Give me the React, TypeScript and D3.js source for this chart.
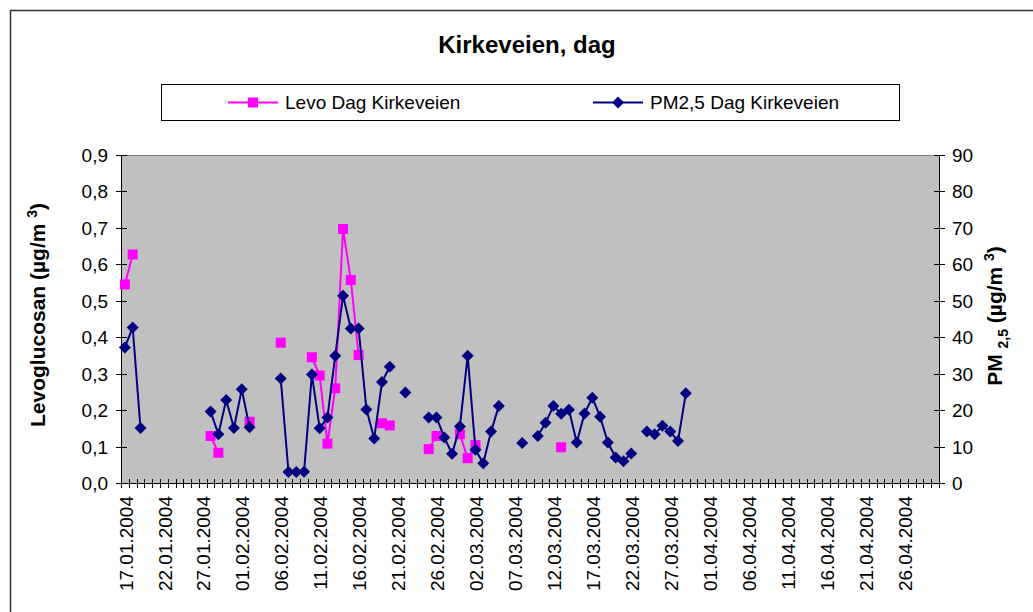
import React, { useEffect, useRef } from "react";
import * as d3 from "d3";

// Levoglucosan, Kirkeveien (µg/m3)
const levoDates = [
  "17.01.2004", "18.01.2004", "28.01.2004", "29.01.2004", "02.02.2004", "06.02.2004",
  "10.02.2004", "11.02.2004", "12.02.2004", "13.02.2004", "14.02.2004", "15.02.2004",
  "16.02.2004", "19.02.2004", "20.02.2004", "25.02.2004", "26.02.2004", "29.02.2004",
  "01.03.2004", "02.03.2004", "13.03.2004",
];
const levoValues = [
  0.545, 0.627, 0.129, 0.083, 0.168, 0.385,
  0.345, 0.295, 0.108, 0.26, 0.697, 0.557,
  0.351, 0.164, 0.158, 0.093, 0.129, 0.134,
  0.068, 0.104, 0.098,
];

// PM2,5, Kirkeveien (µg/m3)
const pmDates = [
  "17.01.2004", "18.01.2004", "19.01.2004", "28.01.2004", "29.01.2004", "30.01.2004",
  "31.01.2004", "01.02.2004", "02.02.2004", "06.02.2004", "07.02.2004", "08.02.2004",
  "09.02.2004", "10.02.2004", "11.02.2004", "12.02.2004", "13.02.2004", "14.02.2004",
  "15.02.2004", "16.02.2004", "17.02.2004", "18.02.2004", "19.02.2004", "20.02.2004",
  "22.02.2004", "25.02.2004", "26.02.2004", "27.02.2004", "28.02.2004", "29.02.2004",
  "01.03.2004", "02.03.2004", "03.03.2004", "04.03.2004", "05.03.2004", "08.03.2004",
  "10.03.2004", "11.03.2004", "12.03.2004", "13.03.2004", "14.03.2004", "15.03.2004",
  "16.03.2004", "17.03.2004", "18.03.2004", "19.03.2004", "20.03.2004", "21.03.2004",
  "22.03.2004", "24.03.2004", "25.03.2004", "26.03.2004", "27.03.2004", "28.03.2004",
  "29.03.2004",
];
const pmValues = [
  37.2, 42.7, 15.1, 19.6, 13.4, 22.8,
  15.1, 25.7, 15.3, 28.7, 3.0, 3.0,
  3.1, 29.8, 15.0, 18.0, 34.9, 51.4,
  42.4, 42.4, 20.2, 12.2, 27.7, 31.9,
  24.8, 18.0, 18.0, 12.5, 8.0, 15.5,
  34.9, 9.1, 5.4, 14.1, 21.1, 11.0,
  12.9, 16.5, 21.1, 19.0, 20.1, 11.1,
  19.1, 23.4, 18.2, 11.1, 7.0, 6.0,
  8.1, 14.1, 13.4, 15.7, 14.1, 11.5,
  24.6,
];

const leftTicks = [0, 0.1, 0.2, 0.3, 0.4, 0.5, 0.6, 0.7, 0.8, 0.9];
const rightTicks = [0, 10, 20, 30, 40, 50, 60, 70, 80, 90];

const FONT = "Arial, 'Liberation Sans', sans-serif";
const PINK = "#FF00FF";
const NAVY = "#000080";

const App = () => {
  const ref = useRef<SVGSVGElement>(null);

  useEffect(() => {
    document.body.style.margin = "0";
    const svg = d3.select(ref.current);
    svg.selectAll("*").remove();

    const plot = { left: 121, right: 939, top: 155, bottom: 483 };
    const fmt = d3.timeFormat("%d.%m.%Y");
    const days = d3.timeDay.range(new Date(2004, 0, 17), new Date(2004, 4, 1)).map(fmt);

    const x = d3.scaleBand().domain(days).range([plot.left, plot.right]);
    const cx = (d: string) => (x(d) as number) + x.bandwidth() / 2;
    const yL = d3.scaleLinear().domain([0, 0.9]).range([plot.bottom, plot.top]);
    const yR = d3.scaleLinear().domain([0, 90]).range([plot.bottom, plot.top]);

    // outer frame
    svg.append("rect")
      .attr("x", 10.5).attr("y", 10.5)
      .attr("width", 1040).attr("height", 640)
      .attr("fill", "white").attr("stroke", "#333").attr("stroke-width", 1.5);

    // title
    svg.append("text")
      .attr("x", 527).attr("y", 53)
      .attr("text-anchor", "middle")
      .style("font-family", FONT).style("font-size", "24px").style("font-weight", "bold")
      .text("Kirkeveien, dag");

    // legend
    const lg = svg.append("g");
    lg.append("rect")
      .attr("x", 161.5).attr("y", 84.5).attr("width", 738).attr("height", 36)
      .attr("fill", "white").attr("stroke", "#000");
    const legendItems = [
      { label: "Levo Dag Kirkeveien", color: PINK, x0: 228, shape: "square" },
      { label: "PM2,5 Dag Kirkeveien", color: NAVY, x0: 593, shape: "diamond" },
    ];
    legendItems.forEach(it => {
      lg.append("line")
        .attr("x1", it.x0).attr("x2", it.x0 + 50).attr("y1", 102.5).attr("y2", 102.5)
        .attr("stroke", it.color).attr("stroke-width", 2);
      lg.append("path")
        .attr("transform", `translate(${it.x0 + 25},102.5)`)
        .attr("d", it.shape === "square" ? "M-5,-5H5V5H-5Z" : "M0,-6L6,0L0,6L-6,0Z")
        .attr("fill", it.color);
      lg.append("text")
        .attr("x", it.x0 + 57).attr("y", 109)
        .style("font-family", FONT).style("font-size", "19px")
        .text(it.label);
    });

    // plot area
    svg.append("rect")
      .attr("x", plot.left).attr("y", plot.top)
      .attr("width", plot.right - plot.left).attr("height", plot.bottom - plot.top)
      .attr("fill", "#C0C0C0");
    svg.append("line")
      .attr("x1", plot.left).attr("x2", plot.right)
      .attr("y1", plot.top + 0.5).attr("y2", plot.top + 0.5)
      .attr("stroke", "#808080");

    // left axis
    const gl = svg.append("g");
    gl.append("line")
      .attr("x1", plot.left + 0.5).attr("x2", plot.left + 0.5)
      .attr("y1", plot.top).attr("y2", plot.bottom)
      .attr("stroke", "#000");
    leftTicks.forEach(t => {
      const yy = Math.round(yL(t)) + 0.5;
      gl.append("line")
        .attr("x1", plot.left - 5).attr("x2", plot.left + 6).attr("y1", yy).attr("y2", yy)
        .attr("stroke", "#000");
      gl.append("text")
        .attr("x", plot.left - 13).attr("y", yy).attr("dy", "0.35em")
        .attr("text-anchor", "end")
        .style("font-family", FONT).style("font-size", "19px")
        .text(d3.format(".1f")(t).replace(".", ","));
    });

    // right axis
    const gr = svg.append("g");
    gr.append("line")
      .attr("x1", plot.right + 0.5).attr("x2", plot.right + 0.5)
      .attr("y1", plot.top).attr("y2", plot.bottom)
      .attr("stroke", "#000");
    rightTicks.forEach(t => {
      const yy = Math.round(yR(t)) + 0.5;
      gr.append("line")
        .attr("x1", plot.right - 5).attr("x2", plot.right + 6).attr("y1", yy).attr("y2", yy)
        .attr("stroke", "#000");
      gr.append("text")
        .attr("x", plot.right + 13).attr("y", yy).attr("dy", "0.35em")
        .style("font-family", FONT).style("font-size", "19px")
        .text(String(t));
    });

    // bottom axis
    const gb = svg.append("g");
    gb.append("line")
      .attr("x1", plot.left).attr("x2", plot.right + 6)
      .attr("y1", plot.bottom + 0.5).attr("y2", plot.bottom + 0.5)
      .attr("stroke", "#000");
    days.concat([""]).forEach((d, i) => {
      const xx = Math.round(plot.left + i * x.bandwidth()) + 0.5;
      gb.append("line")
        .attr("x1", xx).attr("x2", xx).attr("y1", plot.bottom - 4).attr("y2", plot.bottom + 5)
        .attr("stroke", "#000");
    });
    days.filter((_, i) => i % 5 === 0).forEach(d => {
      gb.append("text")
        .attr("transform", `translate(${cx(d) + 1},${plot.bottom + 13}) rotate(-90)`)
        .attr("dy", "0.35em")
        .attr("text-anchor", "end")
        .style("font-family", FONT).style("font-size", "19px")
        .text(d);
    });

    // axis titles
    const tl = svg.append("text")
      .attr("transform", `translate(45,315) rotate(-90)`)
      .attr("text-anchor", "middle")
      .style("font-family", FONT).style("font-size", "21px").style("font-weight", "bold");
    tl.append("tspan").text("Levoglucosan (µg/m   ");
    tl.append("tspan").attr("dy", -8).style("font-size", "14px").text("3");
    tl.append("tspan").attr("dy", 8).text(")");

    const tr = svg.append("text")
      .attr("transform", `translate(1002,316) rotate(-90)`)
      .attr("text-anchor", "middle")
      .style("font-family", FONT).style("font-size", "21px").style("font-weight", "bold");
    tr.append("tspan").text("PM ");
    tr.append("tspan").attr("dy", 6).style("font-size", "14px").text("2,5");
    tr.append("tspan").attr("dy", -6).text("  (µg/m ");
    tr.append("tspan").attr("dy", -8).style("font-size", "14px").text("3");
    tr.append("tspan").attr("dy", 8).text(")");

    // series
    const levoMap = new Map(levoDates.map((d, i) => [d, levoValues[i]]));
    const pmMap = new Map(pmDates.map((d, i) => [d, pmValues[i]]));

    const lineL = d3.line<string>()
      .defined(d => levoMap.has(d))
      .x(d => cx(d))
      .y(d => yL(levoMap.get(d) as number));
    const lineR = d3.line<string>()
      .defined(d => pmMap.has(d))
      .x(d => cx(d))
      .y(d => yR(pmMap.get(d) as number));

    svg.append("path")
      .attr("d", lineL(days))
      .attr("fill", "none").attr("stroke", PINK).attr("stroke-width", 2);

    svg.append("g").selectAll("rect")
      .data(levoDates)
      .enter()
      .append("rect")
      .attr("x", d => cx(d) - 5)
      .attr("y", d => yL(levoMap.get(d) as number) - 5)
      .attr("width", 10).attr("height", 10)
      .attr("fill", PINK);

    svg.append("path")
      .attr("d", lineR(days))
      .attr("fill", "none").attr("stroke", NAVY).attr("stroke-width", 2);

    svg.append("g").selectAll("path")
      .data(pmDates)
      .enter()
      .append("path")
      .attr("transform", d => `translate(${cx(d)},${yR(pmMap.get(d) as number)})`)
      .attr("d", "M0,-6L6,0L0,6L-6,0Z")
      .attr("fill", NAVY);
  }, []);

  return <svg ref={ref} width={1033} height={612} style={{ display: "block" }} />;
};

export default App;
